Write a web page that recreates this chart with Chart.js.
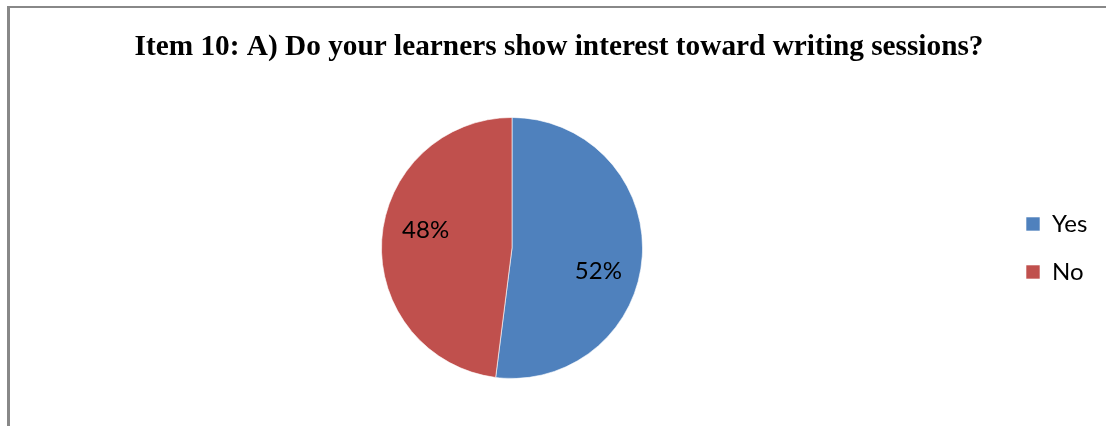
<!DOCTYPE html>
<html>
<head>
<meta charset="utf-8">
<script src="https://cdn.jsdelivr.net/npm/chart.js@4"></script>
<style>
  html, body { margin: 0; padding: 0; background: #ffffff; }
  #wrap { position: relative; width: 1106px; height: 426px; overflow: hidden; }
  #frame {
    position: absolute; left: 7px; top: 6px; right: -10px; bottom: -10px;
    border-top: 2px solid #888888; border-left: 3px solid #888888;
    pointer-events: none;
  }
</style>
</head>
<body>
<div id="wrap">
  <canvas id="chart" width="1106" height="426"></canvas>
  <div id="frame"></div>
</div>
<script>
// Survey answers and their shares (percent)
const categories = ['Yes', 'No'];
const shares = [52, 48];
const sliceColors = ['#4F81BD', '#C0504D'];
const chartTitle = 'Item 10: A) Do your learners show interest toward writing sessions?';

// Writes the percentage inside each slice
const sliceLabels = {
  id: 'sliceLabels',
  afterDatasetsDraw(chart) {
    const meta = chart.getDatasetMeta(0);
    const values = chart.data.datasets[0].data;
    const ctx = chart.ctx;
    ctx.save();
    ctx.font = '24px Lato, "Liberation Sans", sans-serif';
    ctx.fillStyle = '#000000';
    ctx.textAlign = 'center';
    ctx.textBaseline = 'middle';
    meta.data.forEach((arc, i) => {
      const p = arc.getProps(['x', 'y', 'startAngle', 'endAngle', 'outerRadius'], true);
      const mid = (p.startAngle + p.endAngle) / 2 + 0.17;
      const r = p.outerRadius * 0.68;
      // small downward nudge so the digits sit optically centred
      ctx.fillText(values[i] + '%', p.x + Math.cos(mid) * r, p.y + Math.sin(mid) * r + 3);
    });
    ctx.restore();
  }
};

new Chart(document.getElementById('chart'), {
  type: 'pie',
  data: {
    labels: categories,
    datasets: [{
      data: shares,
      backgroundColor: sliceColors,
      borderColor: 'rgba(255,255,255,0.6)',
      borderWidth: 1
    }]
  },
  options: {
    responsive: false,
    animation: false,
    layout: { padding: { left: 22, right: 10, top: 0, bottom: 47 } },
    plugins: {
      title: {
        display: true,
        text: chartTitle,
        color: '#000000',
        font: { family: '"Liberation Serif", "Times New Roman", serif', size: 29.3, weight: 'bold' },
        padding: { top: 30, bottom: 51.8 }
      },
      legend: {
        position: 'right',
        fullSize: false,
        maxWidth: 94,
        labels: {
          boxWidth: 14,
          boxHeight: 14,
          padding: 24,
          color: '#000000',
          font: { family: 'Lato, "Liberation Sans", sans-serif', size: 24 }
        }
      },
      tooltip: { enabled: false }
    }
  },
  plugins: [sliceLabels]
});
</script>
</body>
</html>
